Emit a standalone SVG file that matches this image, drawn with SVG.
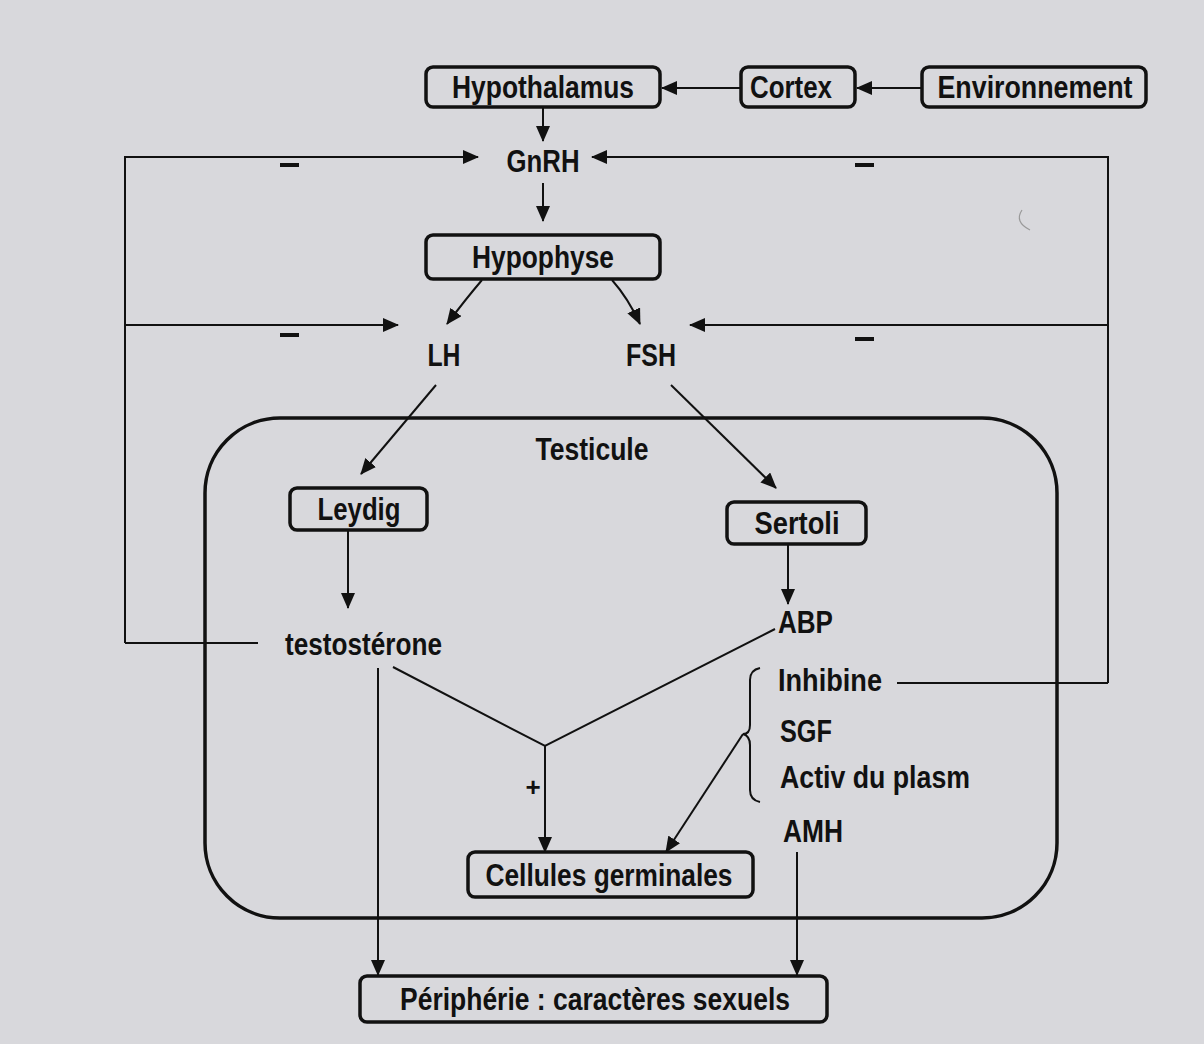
<svg xmlns="http://www.w3.org/2000/svg" width="1204" height="1044" viewBox="0 0 1204 1044">
<defs>
<marker id="ahb" markerWidth="16" markerHeight="14" refX="15" refY="7" orient="auto" markerUnits="userSpaceOnUse" viewBox="0 0 16 14">
<path d="M0,0 L16,7 L0,14 z" fill="#111"/>
</marker>
</defs>
<style>
.bx{fill:none;stroke:#111;stroke-width:3.5}
.t{font-family:"Liberation Sans",Arial,sans-serif;font-weight:bold;font-size:31px;fill:#111;text-anchor:middle}
.tl{font-family:"Liberation Sans",Arial,sans-serif;font-weight:bold;font-size:31px;fill:#111}
.c{fill:none;stroke:#111;stroke-width:2;marker-end:url(#ahb)}
.l{fill:none;stroke:#111;stroke-width:2}
.m{stroke:#111;stroke-width:4}
</style>
<rect width="1204" height="1044" fill="#d8d8dc"/>

<g id="connectors">
<path class="c" d="M741,88 L662,88"/>
<path class="c" d="M922,88 L857,88"/>
<path class="c" d="M543,107 L543,141"/>
<path class="c" d="M543,183 L543,221"/>
<path class="c" d="M125,643 L125,157 L478,157"/>
<path class="c" d="M125,325 L398,325"/>
<path class="l" d="M125,643 L258,643"/>
<path class="c" d="M1108,683 L1108,157 L592,157"/>
<path class="c" d="M1108,325 L690,325"/>
<path class="l" d="M897,683 L1108,683"/>
<path class="c" d="M482,280 Q465,300 447,324"/>
<path class="c" d="M612,280 Q628,298 640,324"/>
<path class="c" d="M436,385 L361,474"/>
<path class="c" d="M671,385 L776,488"/>
<path class="c" d="M348,531 L348,608"/>
<path class="c" d="M788,545 L788,604"/>
<path class="l" d="M393,667 L545,746 L775,629"/>
<path class="c" d="M545,746 L545,852"/>
<path class="c" d="M743,734 L666,852"/>
<path class="c" d="M378,668 L378,975"/>
<path class="c" d="M797,852 L797,975"/>
<path class="l" d="M760,668 Q750,670 750,680 L750,725 Q750,734 743,734 Q750,736 750,745 L750,790 Q750,800 760,802"/>
</g>

<g id="testicule">
<rect x="205" y="418" width="852" height="500" rx="75" ry="75" class="bx"/>
<text class="t" x="592" y="460" textLength="113" lengthAdjust="spacingAndGlyphs">Testicule</text>
</g>

<g id="hypothalamus"><rect x="426" y="67" width="234" height="40" rx="7" class="bx"/><text class="t" x="543" y="98" textLength="182" lengthAdjust="spacingAndGlyphs">Hypothalamus</text></g>
<g id="cortex"><rect x="741" y="67" width="114" height="40" rx="7" class="bx"/><text class="t" x="791" y="98" textLength="82" lengthAdjust="spacingAndGlyphs">Cortex</text></g>
<g id="environnement"><rect x="922" y="67" width="224" height="40" rx="7" class="bx"/><text class="t" x="1035" y="98" textLength="195" lengthAdjust="spacingAndGlyphs">Environnement</text></g>
<g id="gnrh"><text class="t" x="543" y="172" textLength="73" lengthAdjust="spacingAndGlyphs">GnRH</text></g>
<g id="hypophyse"><rect x="426" y="235" width="234" height="44" rx="7" class="bx"/><text class="t" x="543" y="268" textLength="142" lengthAdjust="spacingAndGlyphs">Hypophyse</text></g>
<g id="lh"><text class="t" x="444" y="366" textLength="33" lengthAdjust="spacingAndGlyphs">LH</text></g>
<g id="fsh"><text class="t" x="651" y="366" textLength="50" lengthAdjust="spacingAndGlyphs">FSH</text></g>
<g id="leydig"><rect x="290" y="488" width="137" height="42" rx="7" class="bx"/><text class="t" x="359" y="520" textLength="83" lengthAdjust="spacingAndGlyphs">Leydig</text></g>
<g id="sertoli"><rect x="727" y="502" width="139" height="42" rx="7" class="bx"/><text class="t" x="797" y="534" textLength="85" lengthAdjust="spacingAndGlyphs">Sertoli</text></g>
<g id="testosterone"><text class="tl" x="285" y="655" textLength="157" lengthAdjust="spacingAndGlyphs">testostérone</text></g>
<g id="abp"><text class="tl" x="778" y="633" textLength="55" lengthAdjust="spacingAndGlyphs">ABP</text></g>
<g id="inhibine"><text class="tl" x="778" y="691" textLength="104" lengthAdjust="spacingAndGlyphs">Inhibine</text></g>
<g id="sgf"><text class="tl" x="780" y="742" textLength="52" lengthAdjust="spacingAndGlyphs">SGF</text></g>
<g id="activ"><text class="tl" x="780" y="788" textLength="190" lengthAdjust="spacingAndGlyphs">Activ du plasm</text></g>
<g id="amh"><text class="tl" x="783" y="842" textLength="60" lengthAdjust="spacingAndGlyphs">AMH</text></g>
<g id="cellules"><rect x="468" y="852" width="285" height="45" rx="7" class="bx"/><text class="t" x="609" y="886" textLength="247" lengthAdjust="spacingAndGlyphs">Cellules germinales</text></g>
<g id="peripherie"><rect x="360" y="976" width="467" height="46" rx="7" class="bx"/><text class="t" x="595" y="1010" textLength="390" lengthAdjust="spacingAndGlyphs">Périphérie : caractères sexuels</text></g>

<g id="signs">
<line class="m" x1="280" y1="165" x2="299" y2="165"/>
<line class="m" x1="280" y1="335" x2="299" y2="335"/>
<line class="m" x1="855" y1="165" x2="874" y2="165"/>
<line class="m" x1="855" y1="339" x2="874" y2="339"/>
<text class="t" x="533" y="796" style="font-size:26px">+</text>
</g>
<path d="M1022,210 Q1014,222 1030,230" fill="none" stroke="#999" stroke-width="1.2"/>
</svg>
